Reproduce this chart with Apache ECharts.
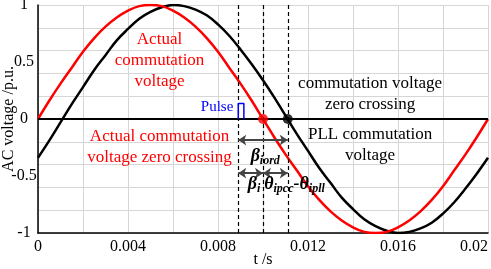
<!DOCTYPE html>
<html>
<head>
<meta charset="utf-8">
<script src="https://cdn.jsdelivr.net/npm/echarts@6/dist/echarts.min.js"></script>
<style>
  html, body { margin: 0; padding: 0; background: #fff; }
  #chart { width: 491px; height: 269px; }
</style>
</head>
<body>
<div id="chart"></div>
<script>
// time samples (s) and voltages (p.u.)
const timeS = [0, 0.0005, 0.001, 0.0015, 0.002, 0.0025, 0.003, 0.0035, 0.004, 0.0045,
  0.005, 0.0055, 0.006, 0.0065, 0.007, 0.0075, 0.008, 0.0085, 0.009, 0.0095,
  0.01, 0.0105, 0.011, 0.0115, 0.012, 0.0125, 0.013, 0.0135, 0.014, 0.0145,
  0.015, 0.0155, 0.016, 0.0165, 0.017, 0.0175, 0.018, 0.0185, 0.019, 0.0195, 0.02];
const actualV = [0, 0.16, 0.31, 0.45, 0.59, 0.71, 0.81, 0.89, 0.95, 0.99,
  1, 0.99, 0.95, 0.89, 0.81, 0.71, 0.59, 0.45, 0.31, 0.16,
  0, -0.16, -0.31, -0.45, -0.59, -0.71, -0.81, -0.89, -0.95, -0.99,
  -1, -0.99, -0.95, -0.89, -0.81, -0.71, -0.59, -0.45, -0.31, -0.16, 0];
const pllV = [-0.34, -0.19, -0.03, 0.13, 0.28, 0.43, 0.56, 0.69, 0.79, 0.88,
  0.94, 0.98, 1, 0.99, 0.96, 0.91, 0.83, 0.73, 0.61, 0.48,
  0.34, 0.19, 0.03, -0.13, -0.28, -0.43, -0.56, -0.69, -0.79, -0.88,
  -0.94, -0.98, -1, -0.99, -0.96, -0.91, -0.83, -0.73, -0.61, -0.48, -0.34];
// firing pulse
const pulseT = [0.0089, 0.0089, 0.00915, 0.00915];
const pulseV = [0, 0.135, 0.135, 0];
// marker instants (s)
const firingT = 0.0089;
const actualZeroT = 0.01;
const pllZeroT = 0.0111;

const serif = "'Liberation Serif', 'Times New Roman', serif";
const zip = (xs, ys) => xs.map((x, i) => [x, ys[i]]);

const chart = echarts.init(document.getElementById("chart"));

const textMark = (coord, text, color, extra) => ({
  coord: coord,
  symbolSize: 0,
  label: Object.assign({
    show: true, position: "inside", formatter: text, color: color,
    fontFamily: serif, fontSize: 17, lineHeight: 21, align: "center"
  }, extra || {})
});

const greek = {
  b: { fontFamily: serif, fontSize: 18, fontStyle: "italic", fontWeight: "bold", color: "#000" },
  s: { fontFamily: serif, fontSize: 12, fontStyle: "italic", fontWeight: "bold", color: "#000", padding: [8, 0, 0, 0] }
};

const dashed = t => [
  { coord: [t, -1] },
  { coord: [t, 1], lineStyle: { color: "#000", width: 1.2, type: [4, 3] } }
];
const arrow = (t0, t1, v) => [
  { coord: [t0, v], symbol: "arrow", symbolSize: 8 },
  { coord: [t1, v], symbol: "arrow", symbolSize: 8,
    lineStyle: { color: "#444", width: 2, type: "solid" } }
];

const option = {
  animation: false,
  grid: { left: 38, right: 3, top: 5, bottom: 36, outerBoundsMode: "none" },
  xAxis: {
    type: "value", min: 0, max: 0.02, interval: 0.002,
    name: "t /s", nameLocation: "middle", nameGap: 19, nameMoveOverlap: false,
    nameTextStyle: { fontFamily: serif, fontSize: 16, color: "#000" },
    axisLine: { onZero: false, lineStyle: { color: "#000", width: 1.5 } },
    axisTick: { show: false },
    axisLabel: {
      fontFamily: serif, fontSize: 16, color: "#000", margin: 6, alignMaxLabel: "right",
      formatter: v => (Math.round(v / 0.002) % 2 === 0 ? String(+v.toFixed(3)) : "")
    },
    splitLine: { show: true, lineStyle: { color: "#d6d6d6", width: 1 } }
  },
  yAxis: [{
    type: "value", min: -1, max: 1, interval: 0.2,
    name: "AC voltage /p.u.", nameLocation: "middle", nameGap: 21, nameMoveOverlap: false,
    nameTextStyle: { fontFamily: serif, fontSize: 16, color: "#000" },
    axisLine: { show: true, lineStyle: { color: "#000", width: 1.5 } },
    axisTick: { show: false },
    axisLabel: { show: false },
    splitLine: { show: true, lineStyle: { color: "#d6d6d6", width: 1 } }
  }, {
    type: "value", min: -1, max: 1, interval: 0.5, position: "left",
    axisLine: { show: false }, axisTick: { show: false }, splitLine: { show: false },
    axisLabel: { fontFamily: serif, fontSize: 16, color: "#000", margin: 14, align: "center" }
  }],
  series: [
    {
      type: "line", data: zip(timeS, pllV), smooth: 0.4, symbol: "none",
      lineStyle: { color: "#000", width: 2.5 }, z: 3
    },
    {
      type: "line", data: zip(timeS, actualV), smooth: 0.4, symbol: "none",
      lineStyle: { color: "#ff0000", width: 2.5 }, z: 4
    },
    {
      type: "line", data: zip(pulseT, pulseV), symbol: "none",
      lineStyle: { color: "#0000ff", width: 1.5 }, z: 5
    },
    {
      // zero line, dashed verticals, arrows and annotations
      type: "line", data: [], symbol: "none",
      markLine: {
        silent: true, symbol: "none", label: { show: false },
        data: [
          [{ coord: [0, 0] }, { coord: [0.02, 0], lineStyle: { color: "#000", width: 2, type: "solid" } }],
          dashed(firingT),
          dashed(actualZeroT),
          dashed(pllZeroT),
          arrow(firingT, pllZeroT, -0.185),
          arrow(firingT, actualZeroT, -0.475),
          arrow(actualZeroT, pllZeroT, -0.475)
        ]
      },
      markPoint: {
        silent: true,
        data: [
          textMark([0.0054, 0.51], "Actual\ncommutation\nvoltage", "#ff0000"),
          textMark([0.0054, -0.25], "Actual commutation\nvoltage zero crossing", "#ff0000"),
          textMark([0.01476, 0.22], "commutation voltage\nzero crossing", "#000"),
          textMark([0.01476, -0.23], "PLL commutation\nvoltage", "#000"),
          textMark([0.00796, 0.105], "Pulse", "#0000ff", { fontSize: 15 }),
          textMark([0.0101, -0.33], "{b|β}{s|iord}", "#000", { rich: greek }),
          textMark([0.0096, -0.575], "{b|β}{s|i}", "#000", { rich: greek }),
          textMark([0.0114, -0.575], "{b|θ}{s|ipcc}{b|-θ}{s|ipll}", "#000", { rich: greek })
        ]
      }
    },
    {
      type: "scatter", data: [[actualZeroT, 0]], symbolSize: 10,
      itemStyle: { color: "#ff0000" }, z: 6
    },
    {
      type: "scatter", data: [[pllZeroT, 0]], symbolSize: 10,
      itemStyle: { color: "#000" }, z: 6
    }
  ]
};
chart.setOption(option);
</script>
</body>
</html>
